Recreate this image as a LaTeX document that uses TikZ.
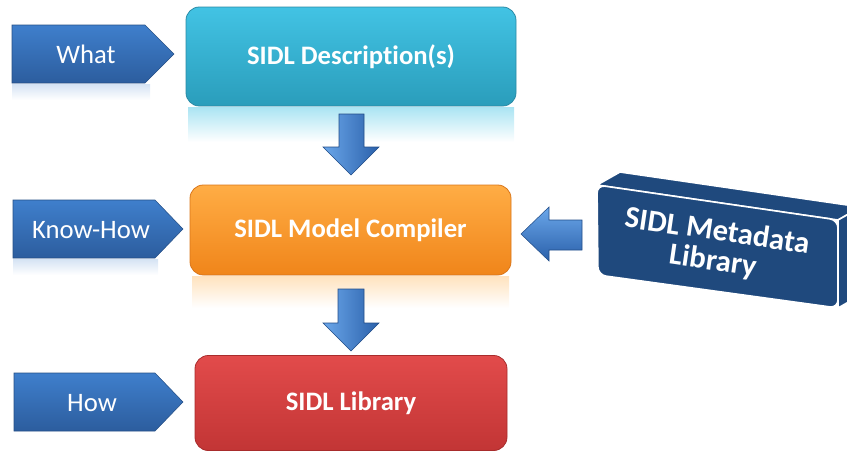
\documentclass[tikz,border=0pt]{standalone}
\usepackage{fontspec}
\setmainfont{Carlito}[Ligatures=NoCommon]
\definecolor{pentTop}{HTML}{3F7FCC}
\definecolor{pentBot}{HTML}{2C5D9E}
\definecolor{cyanTop}{HTML}{42C3E4}
\definecolor{cyanBot}{HTML}{2A9DBB}
\definecolor{cyanEdge}{HTML}{2A8AA5}
\definecolor{orTop}{HTML}{FFAD45}
\definecolor{orBot}{HTML}{F0851A}
\definecolor{orEdge}{HTML}{D9761A}
\definecolor{redTop}{HTML}{E24B4B}
\definecolor{redBot}{HTML}{C23535}
\definecolor{redEdge}{HTML}{A82C2C}
\definecolor{navy}{HTML}{1F497D}
\definecolor{arrL}{HTML}{6BA7EA}
\definecolor{arrR}{HTML}{2A60AA}
\begin{document}
\begin{tikzpicture}[x=0.75pt,y=-0.75pt,
  pent/.style={top color=pentTop, bottom color=pentBot, draw=pentBot!85!black, line width=0.4pt},
  lbl/.style={text=white, font=\fontsize{20}{24}\selectfont, inner sep=0pt},
  stagebox/.style={rounded corners=10pt, line width=0.6pt, text=white,
    font=\bfseries\fontsize{20}{24}\selectfont},
  blockarrow/.style={left color=arrL, right color=arrR, draw=arrR!80!black, line width=0.4pt},
  refl/.style={draw=none}
]
\useasboundingbox (0,0) rectangle (847,451);
\clip (0,0) rectangle (847,451);

% reflections
\shade[refl, top color=pentTop!22, bottom color=white] (12,84) rectangle (150,100);
\shade[refl, top color=pentTop!22, bottom color=white] (13,259) rectangle (158,275);
\shade[refl, top color=cyanTop!45, bottom color=white] (188,107) rectangle (514,142);
\shade[refl, top color=orTop!35, bottom color=white] (192,276) rectangle (509,308);

% left pentagon labels
\shade[pent] (12,25) -- (145,25) -- (174,54) -- (145,83) -- (12,83) -- cycle;
\node[lbl] (what) at (86,54) {What};
\shade[pent] (13,200) -- (155,200) -- (183,229) -- (155,258) -- (13,258) -- cycle;
\node[lbl] (knowhow) at (91,230) {Know-How};
\shade[pent] (14,373) -- (155,373) -- (183,402) -- (155,431) -- (14,431) -- cycle;
\node[lbl] (how) at (92,403) {How};

% stage boxes
\node[stagebox, top color=cyanTop, bottom color=cyanBot, draw=cyanEdge,
  minimum width=247.5pt, minimum height=74.25pt] (desc) at (351,56.5) {SIDL Description(s)};
\node[stagebox, top color=orTop, bottom color=orBot, draw=orEdge,
  minimum width=240.75pt, minimum height=67.5pt] (comp) at (350.5,230) {SIDL Model Compiler};
\node[stagebox, top color=redTop, bottom color=redBot, draw=redEdge,
  minimum width=234pt, minimum height=71.25pt] (lib) at (351,403) {SIDL Library};

% down arrows
\shade[blockarrow] (339,114) -- (364,114) -- (364,147) -- (379,147) -- (351,175)
  -- (323,147) -- (339,147) -- cycle;
\shade[blockarrow] (338,289) -- (364,289) -- (364,323) -- (379,323) -- (351,351)
  -- (323,323) -- (338,323) -- cycle;

% left arrow
\shade[top color=arrL, bottom color=arrR, draw=arrR!80!black, line width=0.4pt]
  (582,220) -- (582,250) -- (549,250) -- (549,261) -- (521,234) -- (549,207) -- (549,220) -- cycle;

% 3D metadata block
\fill[navy, draw=white, line width=1.2pt, line join=round]
  (597,185) -- (620,172) -- (861,207) -- (838,220) -- cycle;
\fill[navy, draw=white, line width=1.2pt, line join=round]
  (838,220) -- (861,207) -- (861,295) -- (838,308) -- cycle;
\fill[navy, draw=white, line width=1.2pt, rounded corners=6pt]
  (597,185) -- (838,220) -- (838,308) -- (598,275) -- cycle;
\node[text=white, font=\bfseries\fontsize{23}{23}\selectfont, rotate=-8.3, inner sep=0pt,
  align=center] (meta) at (715,247) {SIDL Metadata\\[-0.5pt]Library};
\end{tikzpicture}
\end{document}
